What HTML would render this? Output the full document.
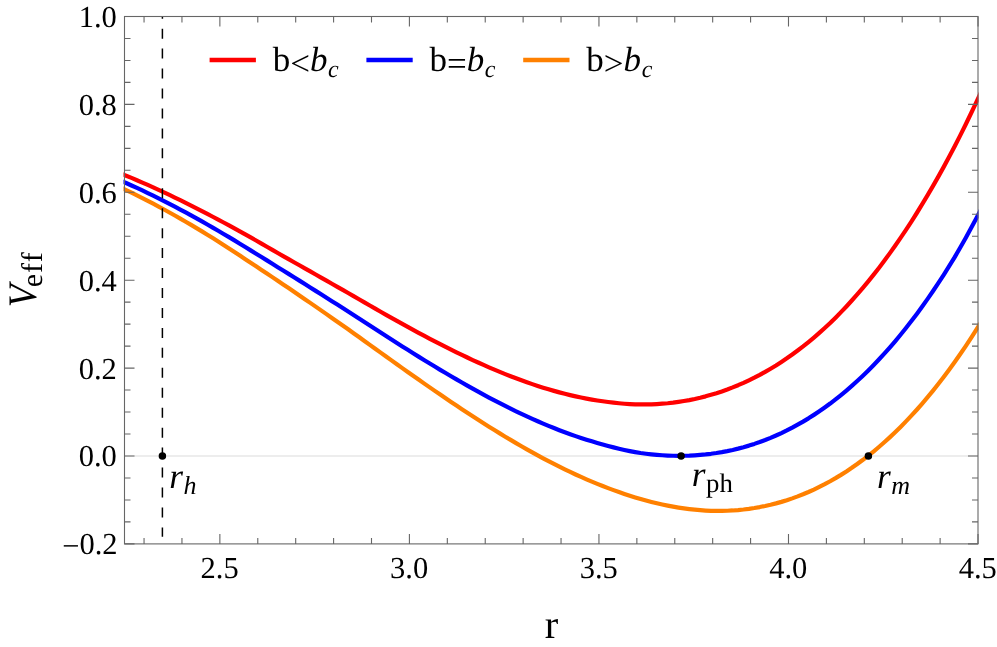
<!DOCTYPE html>
<html><head><meta charset="utf-8"><title>Veff plot</title>
<style>html,body{margin:0;padding:0;background:#fff;}body{width:997px;height:647px;position:relative;overflow:hidden;font-family:"Liberation Serif",serif;}</style></head>
<body>
<svg width="997" height="647" viewBox="0 0 997 647" style="position:absolute;left:0;top:0;will-change:transform;text-rendering:geometricPrecision">
<rect width="997" height="647" fill="#fff"/>
<defs><clipPath id="cp"><rect x="123.5" y="16" width="855.1" height="528.4"/></clipPath></defs>
<line x1="124.5" y1="456.0" x2="978.0" y2="456.0" stroke="#e7e7e7" stroke-width="1.5"/>
<path d="M120.71 173.52 L126.12 175.69 L131.54 177.93 L136.95 180.22 L142.37 182.56 L147.78 184.94 L153.20 187.37 L158.62 189.85 L164.03 192.36 L169.45 194.92 L174.86 197.52 L180.28 200.17 L185.69 202.85 L191.11 205.57 L196.53 208.32 L201.94 211.11 L207.36 213.91 L212.77 216.75 L218.19 219.62 L223.60 222.51 L229.02 225.44 L234.44 228.39 L239.85 231.38 L245.27 234.38 L250.68 237.42 L256.10 240.50 L261.51 243.61 L266.93 246.73 L272.34 249.88 L277.76 253.04 L283.18 256.13 L288.59 259.17 L294.01 262.22 L299.42 265.28 L304.84 268.35 L310.25 271.43 L315.67 274.51 L321.09 277.59 L326.50 280.68 L331.92 283.76 L337.33 286.85 L342.75 289.92 L348.16 293.00 L353.58 296.13 L358.99 299.28 L364.41 302.42 L369.83 305.54 L375.24 308.65 L380.66 311.75 L386.07 314.82 L391.49 317.88 L396.90 320.92 L402.32 323.93 L407.74 326.91 L413.15 329.87 L418.57 332.80 L423.98 335.70 L429.40 338.56 L434.81 341.39 L440.23 344.18 L445.65 346.93 L451.06 349.64 L456.48 352.31 L461.89 354.94 L467.31 357.52 L472.72 360.05 L478.14 362.53 L483.55 364.95 L488.97 367.33 L494.39 369.64 L499.80 371.90 L505.22 374.10 L510.63 376.24 L516.05 378.31 L521.46 380.32 L526.88 382.26 L532.30 384.13 L537.71 385.93 L543.13 387.66 L548.54 389.31 L553.96 390.88 L559.37 392.38 L564.79 393.79 L570.20 395.12 L575.62 396.36 L581.04 397.52 L586.45 398.59 L591.87 399.57 L597.28 400.45 L602.70 401.28 L608.11 402.04 L613.53 402.70 L618.95 403.26 L624.36 403.72 L629.78 404.07 L635.19 404.32 L640.61 404.45 L646.02 404.43 L651.44 404.31 L656.85 404.06 L662.27 403.70 L667.69 403.22 L673.10 402.62 L678.52 401.89 L683.93 401.04 L689.35 400.07 L694.76 398.96 L700.18 397.72 L705.60 396.35 L711.01 394.84 L716.43 393.20 L721.84 391.41 L727.26 389.48 L732.67 387.41 L738.09 385.19 L743.51 382.82 L748.92 380.30 L754.34 377.64 L759.75 374.83 L765.17 371.85 L770.58 368.72 L776.00 365.43 L781.41 361.96 L786.83 358.34 L792.25 354.54 L797.66 350.56 L803.08 346.42 L808.49 342.09 L813.91 337.59 L819.32 332.90 L824.74 328.03 L830.16 322.96 L835.57 317.65 L840.99 312.14 L846.40 306.44 L851.82 300.54 L857.23 294.43 L862.65 288.12 L868.06 281.60 L873.48 274.87 L878.90 267.93 L884.31 260.77 L889.73 253.38 L895.14 245.76 L900.56 237.92 L905.97 229.85 L911.39 221.54 L916.81 213.00 L922.22 204.21 L927.64 195.19 L933.05 185.92 L938.47 176.39 L943.88 166.61 L949.30 156.58 L954.72 146.23 L960.13 135.60 L965.55 124.70 L970.96 113.54 L976.38 102.09 L981.79 90.43" fill="none" stroke="#ff0000" stroke-width="4.2" stroke-linejoin="round" clip-path="url(#cp)"/>
<path d="M120.71 180.68 L126.12 183.03 L131.54 185.46 L136.95 187.94 L142.37 190.47 L147.78 193.06 L153.20 195.69 L158.62 198.37 L164.03 201.09 L169.45 203.87 L174.86 206.68 L180.28 209.55 L185.69 212.45 L191.11 215.40 L196.53 218.39 L201.94 221.42 L207.36 224.50 L212.77 227.61 L218.19 230.76 L223.60 233.95 L229.02 237.17 L234.44 240.42 L239.85 243.71 L245.27 247.02 L250.68 250.35 L256.10 253.67 L261.51 257.01 L266.93 260.37 L272.34 263.75 L277.76 267.16 L283.18 270.53 L288.59 273.88 L294.01 277.25 L299.42 280.63 L304.84 284.03 L310.25 287.44 L315.67 290.85 L321.09 294.28 L326.50 297.71 L331.92 301.15 L337.33 304.59 L342.75 308.03 L348.16 311.47 L353.58 314.98 L358.99 318.51 L364.41 322.03 L369.83 325.55 L375.24 329.06 L380.66 332.56 L386.07 336.04 L391.49 339.51 L396.90 342.97 L402.32 346.41 L407.74 349.83 L413.15 353.23 L418.57 356.60 L423.98 359.95 L429.40 363.27 L434.81 366.57 L440.23 369.83 L445.65 373.06 L451.06 376.26 L456.48 379.42 L461.89 382.54 L467.31 385.63 L472.72 388.67 L478.14 391.67 L483.55 394.62 L488.97 397.53 L494.39 400.39 L499.80 403.19 L505.22 405.95 L510.63 408.65 L516.05 411.29 L521.46 413.88 L526.88 416.40 L532.30 418.87 L537.71 421.27 L543.13 423.60 L548.54 425.87 L553.96 428.07 L559.37 430.19 L564.79 432.24 L570.20 434.22 L575.62 436.12 L581.04 437.95 L586.45 439.69 L591.87 441.35 L597.28 442.92 L602.70 444.46 L608.11 445.97 L613.53 447.39 L618.95 448.71 L624.36 449.94 L629.78 451.08 L635.19 452.12 L640.61 453.04 L646.02 453.75 L651.44 454.36 L656.85 454.87 L662.27 455.27 L667.69 455.55 L673.10 455.73 L678.52 455.79 L683.93 455.75 L689.35 455.60 L694.76 455.33 L700.18 454.94 L705.60 454.43 L711.01 453.79 L716.43 453.02 L721.84 452.12 L727.26 451.09 L732.67 449.93 L738.09 448.63 L743.51 447.19 L748.92 445.61 L754.34 443.88 L759.75 442.02 L765.17 440.00 L770.58 437.83 L776.00 435.51 L781.41 433.04 L786.83 430.41 L792.25 427.63 L797.66 424.69 L803.08 421.59 L808.49 418.33 L813.91 414.89 L819.32 411.29 L824.74 407.51 L830.16 403.55 L835.57 399.41 L840.99 395.10 L846.40 390.60 L851.82 385.91 L857.23 381.04 L862.65 375.97 L868.06 370.70 L873.48 365.24 L878.90 359.56 L884.31 353.67 L889.73 347.58 L895.14 341.28 L900.56 334.76 L905.97 328.03 L911.39 321.07 L916.81 313.90 L922.22 306.49 L927.64 298.86 L933.05 290.99 L938.47 282.88 L943.88 274.54 L949.30 265.95 L954.72 257.08 L960.13 247.75 L965.55 238.16 L970.96 228.32 L976.38 218.21 L981.79 207.99" fill="none" stroke="#0000ff" stroke-width="4.2" stroke-linejoin="round" clip-path="url(#cp)"/>
<path d="M120.71 187.58 L126.12 190.11 L131.54 192.72 L136.95 195.39 L142.37 198.11 L147.78 200.88 L153.20 203.71 L158.62 206.59 L164.03 209.52 L169.45 212.50 L174.86 215.52 L180.28 218.60 L185.69 221.72 L191.11 224.89 L196.53 228.11 L201.94 231.37 L207.36 234.70 L212.77 238.08 L218.19 241.49 L223.60 244.95 L229.02 248.44 L234.44 251.97 L239.85 255.53 L245.27 259.13 L250.68 262.75 L256.10 266.30 L261.51 269.88 L266.93 273.49 L272.34 277.12 L277.76 280.78 L283.18 284.43 L288.59 288.08 L294.01 291.76 L299.42 295.45 L304.84 299.16 L310.25 302.88 L315.67 306.63 L321.09 310.38 L326.50 314.15 L331.92 317.93 L337.33 321.71 L342.75 325.51 L348.16 329.31 L353.58 333.17 L358.99 337.07 L364.41 340.96 L369.83 344.86 L375.24 348.75 L380.66 352.64 L386.07 356.52 L391.49 360.39 L396.90 364.25 L402.32 368.10 L407.74 371.94 L413.15 375.76 L418.57 379.57 L423.98 383.35 L429.40 387.12 L434.81 390.86 L440.23 394.58 L445.65 398.28 L451.06 401.94 L456.48 405.58 L461.89 409.18 L467.31 412.75 L472.72 416.29 L478.14 419.79 L483.55 423.25 L488.97 426.67 L494.39 430.05 L499.80 433.39 L505.22 436.68 L510.63 439.92 L516.05 443.12 L521.46 446.26 L526.88 449.35 L532.30 452.39 L537.71 455.37 L543.13 458.29 L548.54 461.15 L553.96 463.95 L559.37 466.68 L564.79 469.35 L570.20 471.96 L575.62 474.49 L581.04 476.95 L586.45 479.34 L591.87 481.66 L597.28 483.90 L602.70 486.06 L608.11 488.14 L613.53 490.14 L618.95 492.06 L624.36 493.93 L629.78 495.72 L635.19 497.42 L640.61 499.03 L646.02 500.55 L651.44 501.97 L656.85 503.30 L662.27 504.52 L667.69 505.65 L673.10 506.67 L678.52 507.59 L683.93 508.40 L689.35 509.11 L694.76 509.70 L700.18 510.18 L705.60 510.55 L711.01 510.80 L716.43 510.94 L721.84 510.93 L727.26 510.76 L732.67 510.47 L738.09 510.05 L743.51 509.50 L748.92 508.82 L754.34 508.01 L759.75 507.06 L765.17 505.98 L770.58 504.76 L776.00 503.39 L781.41 501.88 L786.83 500.20 L792.25 498.37 L797.66 496.40 L803.08 494.27 L808.49 491.99 L813.91 489.55 L819.32 486.94 L824.74 484.18 L830.16 481.25 L835.57 478.15 L840.99 474.88 L846.40 471.44 L851.82 467.82 L857.23 464.03 L862.65 460.05 L868.06 455.89 L873.48 451.55 L878.90 447.01 L884.31 442.29 L889.73 437.36 L895.14 432.24 L900.56 426.92 L905.97 421.39 L911.39 415.65 L916.81 409.71 L922.22 403.55 L927.64 397.18 L933.05 390.61 L938.47 383.81 L943.88 376.79 L949.30 369.54 L954.72 362.05 L960.13 354.32 L965.55 346.35 L970.96 338.13 L976.38 329.67 L981.79 320.95" fill="none" stroke="#ff8000" stroke-width="4.2" stroke-linejoin="round" clip-path="url(#cp)"/>
<line x1="162.4" y1="16.5" x2="162.4" y2="536.8" stroke="#000" stroke-width="1.5" stroke-dasharray="10 9.95" stroke-dashoffset="7.8"/>
<circle cx="162.4" cy="456.0" r="3.75" fill="#000"/>
<circle cx="681.1" cy="456.0" r="3.75" fill="#000"/>
<circle cx="868.4" cy="456.0" r="3.75" fill="#000"/>
<rect x="124.5" y="16.5" width="853.5" height="527.4" fill="none" stroke="#666666" stroke-width="1.1"/>
<path d="M144.05 543.90v-6M144.05 16.50v6M181.96 543.90v-6M181.96 16.50v6M219.87 543.90v-10M219.87 16.50v10M257.78 543.90v-6M257.78 16.50v6M295.69 543.90v-6M295.69 16.50v6M333.59 543.90v-6M333.59 16.50v6M371.50 543.90v-6M371.50 16.50v6M409.41 543.90v-10M409.41 16.50v10M447.32 543.90v-6M447.32 16.50v6M485.23 543.90v-6M485.23 16.50v6M523.13 543.90v-6M523.13 16.50v6M561.04 543.90v-6M561.04 16.50v6M598.95 543.90v-10M598.95 16.50v10M636.86 543.90v-6M636.86 16.50v6M674.77 543.90v-6M674.77 16.50v6M712.67 543.90v-6M712.67 16.50v6M750.58 543.90v-6M750.58 16.50v6M788.49 543.90v-10M788.49 16.50v10M826.40 543.90v-6M826.40 16.50v6M864.31 543.90v-6M864.31 16.50v6M902.21 543.90v-6M902.21 16.50v6M940.12 543.90v-6M940.12 16.50v6M978.03 543.90v-10M978.03 16.50v10M124.50 543.90h10M978.00 543.90h-10M124.50 521.92h6M978.00 521.92h-6M124.50 499.95h6M978.00 499.95h-6M124.50 477.97h6M978.00 477.97h-6M124.50 456.00h10M978.00 456.00h-10M124.50 434.02h6M978.00 434.02h-6M124.50 412.05h6M978.00 412.05h-6M124.50 390.07h6M978.00 390.07h-6M124.50 368.10h10M978.00 368.10h-10M124.50 346.12h6M978.00 346.12h-6M124.50 324.15h6M978.00 324.15h-6M124.50 302.17h6M978.00 302.17h-6M124.50 280.20h10M978.00 280.20h-10M124.50 258.22h6M978.00 258.22h-6M124.50 236.25h6M978.00 236.25h-6M124.50 214.27h6M978.00 214.27h-6M124.50 192.30h10M978.00 192.30h-10M124.50 170.32h6M978.00 170.32h-6M124.50 148.35h6M978.00 148.35h-6M124.50 126.38h6M978.00 126.38h-6M124.50 104.40h10M978.00 104.40h-10M124.50 82.42h6M978.00 82.42h-6M124.50 60.45h6M978.00 60.45h-6M124.50 38.48h6M978.00 38.48h-6M124.50 16.50h10M978.00 16.50h-10" stroke="#666666" stroke-width="1.1" fill="none"/>
<g font-family="Liberation Serif, serif" font-size="30.5" fill="#000">
<text x="219.6" y="578.2" text-anchor="middle">2.5</text>
<text x="409.1" y="578.2" text-anchor="middle">3.0</text>
<text x="598.7" y="578.2" text-anchor="middle">3.5</text>
<text x="788.2" y="578.2" text-anchor="middle">4.0</text>
<text x="977.7" y="578.2" text-anchor="middle">4.5</text>
<text x="116.8" y="554.3" text-anchor="end"><tspan dy="1.3" dx="0.8">−</tspan><tspan dy="-1.3">0.2</tspan></text>
<text x="116.8" y="466.4" text-anchor="end">0.0</text>
<text x="116.8" y="378.5" text-anchor="end">0.2</text>
<text x="116.8" y="290.6" text-anchor="end">0.4</text>
<text x="116.8" y="202.7" text-anchor="end">0.6</text>
<text x="116.8" y="114.8" text-anchor="end">0.8</text>
<text x="116.8" y="26.9" text-anchor="end">1.0</text>
</g>
<text x="551.6" y="638.1" text-anchor="middle" font-family="Liberation Serif, serif" font-size="40.5">r</text>
<g transform="translate(36.1 307.2) rotate(-90)" font-family="Liberation Serif, serif" style="font-variant-ligatures:none"><text transform="scale(0.915 1)" x="0" y="0" font-size="40.5" font-style="italic">V</text><text y="6.2" font-size="29.8"><tspan x="20.0">e</tspan><tspan x="34.3">f</tspan><tspan x="45.0">f</tspan></text></g>
<line x1="209.6" y1="60" x2="255.9" y2="60" stroke="#ff0000" stroke-width="4.4"/>
<text x="272.7" y="71.4" font-family="Liberation Serif, serif" font-size="35">b<tspan dy="3.6">&lt;</tspan><tspan font-style="italic" dy="-3.6">b</tspan><tspan font-style="italic" font-size="24.0" dy="5.7" dx="0.6">c</tspan></text>
<line x1="366.4" y1="60" x2="412.7" y2="60" stroke="#0000ff" stroke-width="4.4"/>
<text x="429.5" y="71.4" font-family="Liberation Serif, serif" font-size="35">b<tspan dy="3.6">=</tspan><tspan font-style="italic" dy="-3.6">b</tspan><tspan font-style="italic" font-size="24.0" dy="5.7" dx="0.6">c</tspan></text>
<line x1="523.2" y1="60" x2="569.5" y2="60" stroke="#ff8000" stroke-width="4.4"/>
<text x="586.3" y="71.4" font-family="Liberation Serif, serif" font-size="35">b<tspan dy="3.6">&gt;</tspan><tspan font-style="italic" dy="-3.6">b</tspan><tspan font-style="italic" font-size="24.0" dy="5.7" dx="0.6">c</tspan></text>
<text x="169.3" y="487.9" font-family="Liberation Serif, serif" font-size="35.3"><tspan font-style="italic">r</tspan><tspan font-style="italic" font-size="26.0" dy="5.7" dx="0.5">h</tspan></text>
<text x="691.8" y="485.9" font-family="Liberation Serif, serif" font-size="35.3"><tspan font-style="italic">r</tspan><tspan font-size="26.8" dy="5.7" dx="0.5">ph</tspan></text>
<text x="876.9" y="488.2" font-family="Liberation Serif, serif" font-size="35.3"><tspan font-style="italic">r</tspan><tspan font-style="italic" font-size="26.0" dy="5.7" dx="0.5">m</tspan></text>
</svg>
</body></html>
